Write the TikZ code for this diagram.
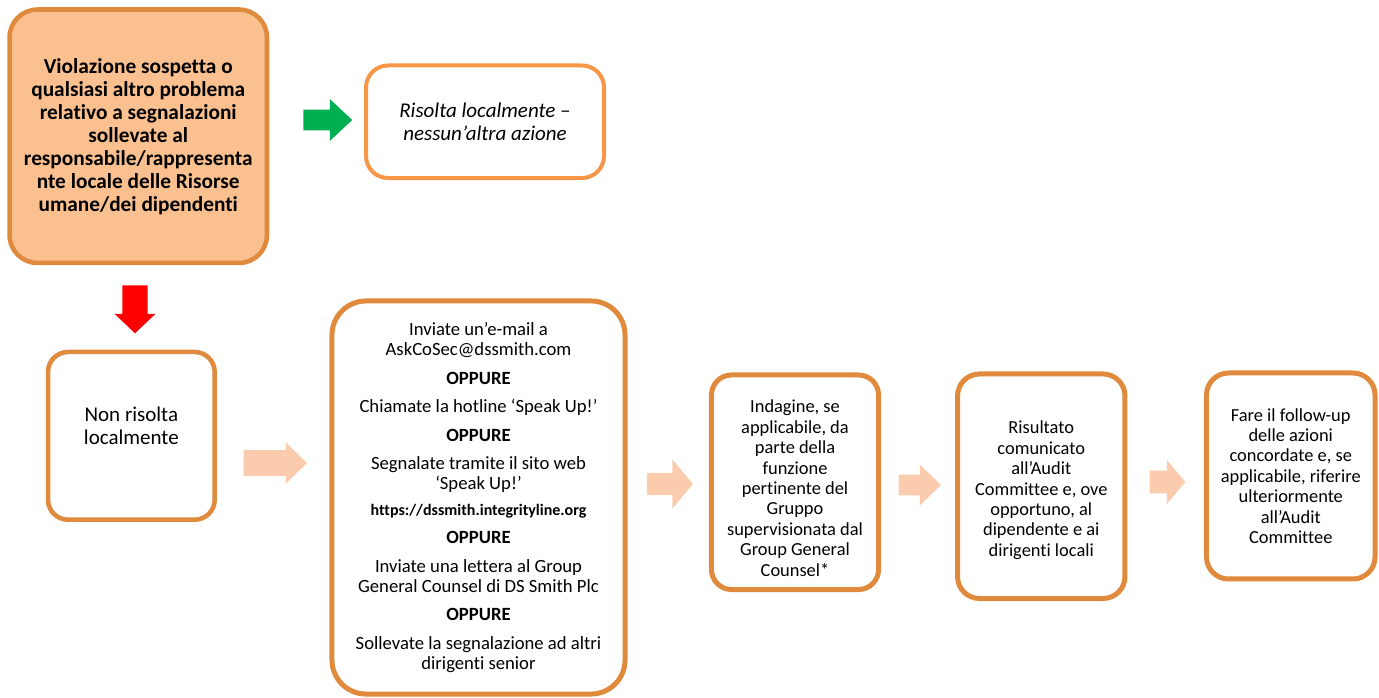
\documentclass[tikz,border=0pt]{standalone}
\usepackage{fontspec}
\setmainfont{Carlito}[Ligatures=NoCommon]
\usetikzlibrary{shapes.arrows}
\definecolor{boxline}{RGB}{224,138,62}
\definecolor{boxlinelight}{RGB}{247,150,70}
\definecolor{startfill}{RGB}{250,192,143}
\definecolor{okgreen}{RGB}{0,176,80}
\definecolor{peach}{RGB}{251,203,173}
\tikzset{flowbox/.style n args={3}{
    draw=boxline, line width=3.4pt, fill=white, rounded corners=#3,
    minimum width=#1, minimum height=#2, inner sep=0pt, align=center
  },
  blockarrow/.style n args={3}{
    single arrow, draw=none, fill=#1, inner xsep=0pt, inner ysep=#2,
    single arrow head extend=#3, anchor=tail
  }
}

\begin{document}
\begin{tikzpicture}[x=0.75pt, y=-0.75pt]
  \useasboundingbox (0,0) rectangle (1379,698);
  % boxes
  \node[flowbox={193.1pt}{190.1pt}{21pt}, fill=startfill, font=\fontsize{16}{17.25}\selectfont\bfseries] (start) at (138.25,136.25)
    {Violazione sospetta o\\qualsiasi altro problema\\relativo a segnalazioni\\sollevate al\\responsabile/rappresenta\\nte locale delle Risorse\\umane/dei dipendenti};
  \node[flowbox={178.5pt}{84.4pt}{16.5pt}, draw=boxlinelight, line width=3pt, font=\fontsize{15.75}{17.5}\selectfont\itshape] (resolved) at (485,121.75)
    {Risolta localmente –\\nessun’altra azione};
  \node[flowbox={125pt}{125.8pt}{15pt}, text depth=15pt, font=\fontsize{15.75}{16.75}\selectfont] (notresolved) at (131.35,435.85)
    {Non risolta\\localmente};
  \node[flowbox={219.8pt}{294.8pt}{25.5pt}, line width=3.75pt, font=\fontsize{14}{15}\selectfont] (report) at (478.5,497.5)
    {Inviate un’e-mail a\\AskCoSec@dssmith.com\\[6.3pt]
     \textbf{OPPURE}\\[6.3pt]
     Chiamate la hotline ‘Speak Up!’\\[6.3pt]
     \textbf{OPPURE}\\[6.3pt]
     Segnalate tramite il sito web\\‘Speak Up!’\\[4.5pt]
     {\fontsize{12}{15}\selectfont\textbf{https://dssmith.integrityline.org}}\\[6.3pt]
     \textbf{OPPURE}\\[6.3pt]
     Inviate una lettera al Group\\General Counsel di DS Smith Plc\\[6.3pt]
     \textbf{OPPURE}\\[6.3pt]
     Sollevate la segnalazione ad altri\\dirigenti senior};
  \node[flowbox={125.3pt}{160.9pt}{15pt}, line width=3.75pt, font=\fontsize{13.8}{15.3}\selectfont] (inquiry) at (795,482.25)
    {\rule{0pt}{18.6pt}Indagine, se\\applicabile, da\\parte della\\funzione\\pertinente del\\Gruppo\\supervisionata dal\\Group General\\Counsel*};
  \node[flowbox={125.6pt}{168.4pt}{16.5pt}, line width=3.75pt, font=\fontsize{13.8}{15.3}\selectfont] (outcome) at (1041.25,486.25)
    {\rule{0pt}{15.6pt}Risultato\\comunicato\\all’Audit\\Committee e, ove\\opportuno, al\\dipendente e ai\\dirigenti locali};
  \node[flowbox={126.4pt}{154.5pt}{16.5pt}, line width=3.75pt, font=\fontsize{13.8}{15.3}\selectfont] (followup) at (1290.75,476)
    {Fare il follow-up\\delle azioni\\concordate e, se\\applicabile, riferire\\ulteriormente\\all’Audit\\Committee};
  % block arrows
  \node[blockarrow={okgreen}{7.5pt}{7.875pt}, single arrow tip angle=86, minimum height=36.75pt] (arrowok) at (303,120) {};
  \node[blockarrow={red}{9.2pt}{6pt}, single arrow tip angle=93, minimum height=36pt, rotate=-90] (arrownot) at (135,285) {};
  \node[blockarrow={peach}{9.4pt}{5.85pt}, single arrow tip angle=89, minimum height=47.5pt] (arrowa) at (243.3,463) {};
  \node[blockarrow={peach}{8.1pt}{10pt}, single arrow tip angle=100, minimum height=34.5pt] (arrowb) at (646.7,484) {};
  \node[blockarrow={peach}{7.5pt}{7.5pt}, single arrow tip angle=88, minimum height=31.8pt] (arrowc) at (898.3,485) {};
  \node[blockarrow={peach}{8.35pt}{7.9pt}, single arrow tip angle=100, minimum height=26.8pt] (arrowd) at (1149.3,482) {};
\end{tikzpicture}
\end{document}
